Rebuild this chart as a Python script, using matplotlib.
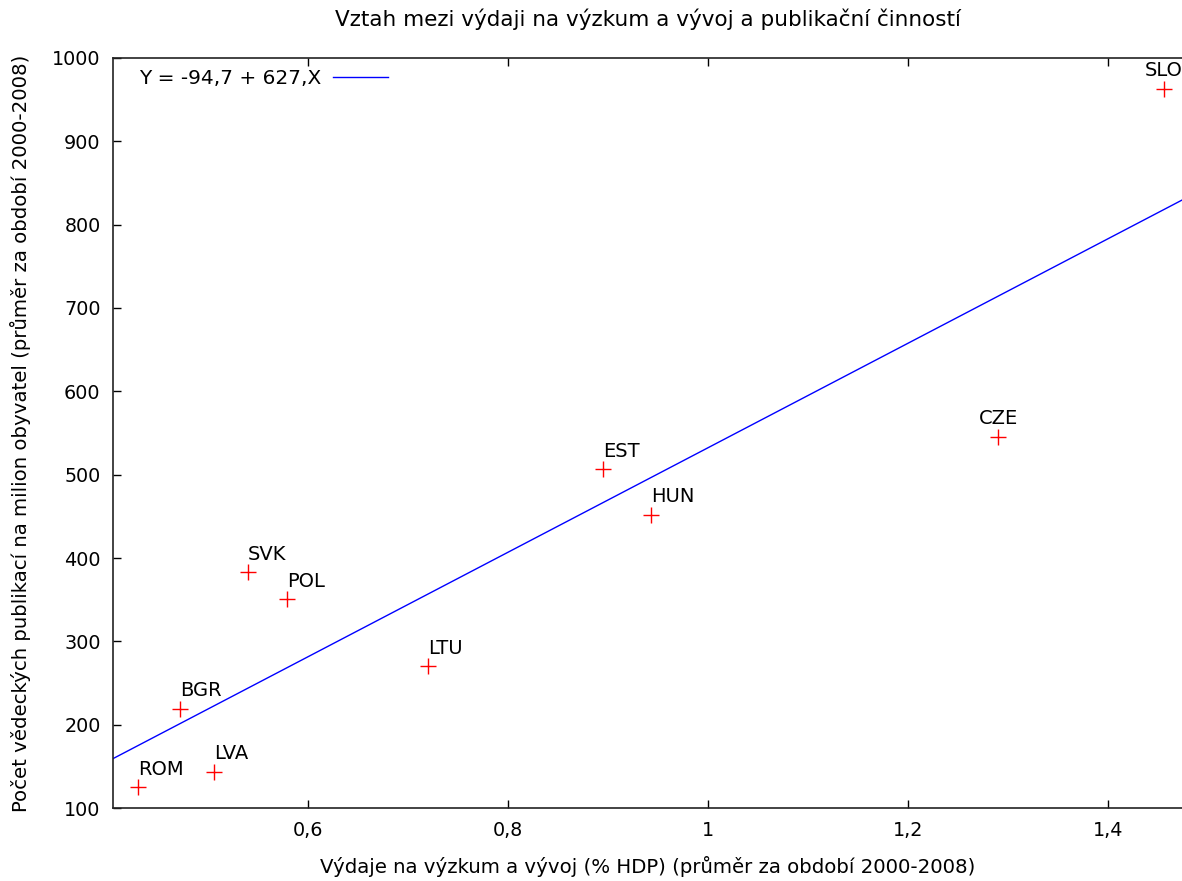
import numpy as np
import matplotlib.pyplot as plt

# staty a jejich hodnoty
staty = ["ROM", "BGR", "LVA", "SVK", "POL", "LTU", "EST", "HUN", "CZE", "SLO"]
vydaje = [0.430, 0.472, 0.506, 0.540, 0.579, 0.720, 0.895, 0.943, 1.290, 1.456]
publikace = [124.8, 218.8, 143.6, 382.8, 350.4, 270.4, 506.4, 451.6, 545.6, 963.2]

# regresni primka Y = a + b.X
a = -94.7
b = 627.0

x_ticks = [0.6, 0.8, 1.0, 1.2, 1.4]
y_ticks = [100, 200, 300, 400, 500, 600, 700, 800, 900, 1000]

plt.rcParams['font.family'] = ['DejaVu Sans']

fig = plt.figure(figsize=(11.82, 8.81), dpi=100)
ax = fig.add_axes([113/1182, 1 - 808/881, 1 - 113/1182, (808 - 58)/881])

xmin, xmax = 0.405, 1.474
ax.set_xlim(xmin, xmax)
ax.set_ylim(100, 1000)

xr = np.array([xmin, xmax])
ax.plot(xr, a + b*xr, color='#0000ff', lw=1, label="Y = -94,7 + 627,X")

ax.plot(vydaje, publikace, linestyle='none', marker='+', markersize=12,
        markeredgewidth=1, color='#ff0000')

for s, x, y in zip(staty, vydaje, publikace):
    ha = 'center' if s in ("CZE", "SLO") else 'left'
    ax.annotate(s, (x, y), xytext=(0, 9), textcoords='offset points',
                ha=ha, va='baseline', fontsize=14)

ax.set_xticks(x_ticks)
ax.set_xticklabels([f"{t:g}".replace('.', ',') for t in x_ticks])
ax.set_yticks(y_ticks)
ax.tick_params(direction='in', length=6, width=1, labelsize=13.8,
               top=True, right=False, pad=9)
ax.spines['right'].set_visible(False)
for sp in ['left', 'bottom', 'top']:
    ax.spines[sp].set_linewidth(1.2)
    ax.spines[sp].set_color('#222222')

ax.set_xlabel("Výdaje na výzkum a vývoj (% HDP) (průměr za období 2000-2008)",
              fontsize=14.2, labelpad=12)
ax.set_ylabel("Počet vědeckých publikací na milion obyvatel (průměr za období 2000-2008)",
              fontsize=14.2, labelpad=15)
fig.text(648/1182, 1 - 19/881, "Vztah mezi výdaji na výzkum a vývoj a publikační činností",
         ha='center', va='center', fontsize=15.5)

ax.legend(loc='upper left', frameon=False, markerfirst=False, fontsize=14.5,
          handlelength=2.7, handletextpad=0.6, borderpad=0, borderaxespad=0,
          bbox_to_anchor=(26/1069, 1 - 11/750))

fig.savefig("out.png", dpi=100)
